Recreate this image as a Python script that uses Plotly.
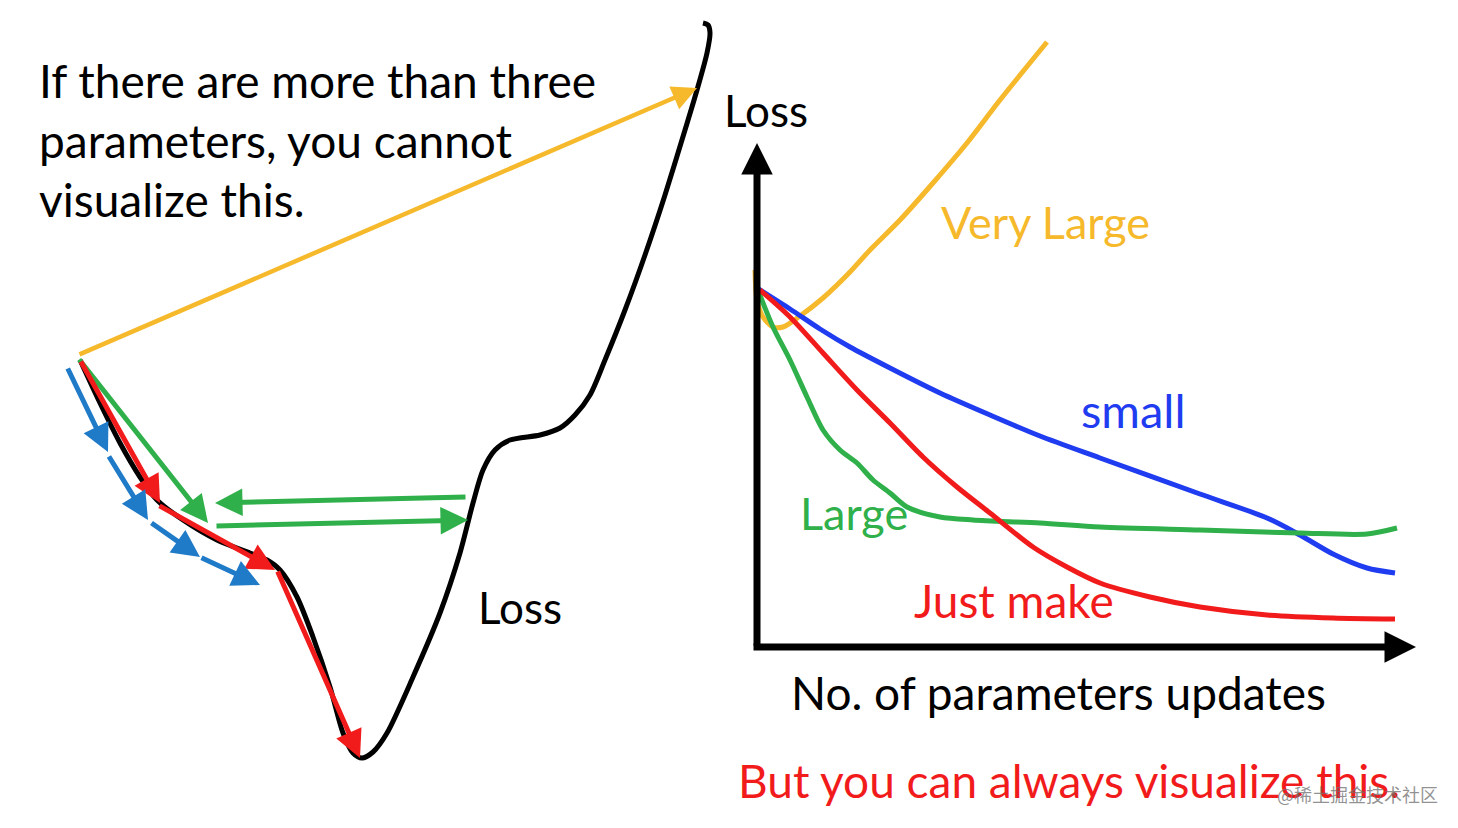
import plotly.graph_objects as go

# ---------------- data (canvas units: x right, y down) ----------------
# Left: the loss landscape curve
loss_curve_x = [80, 100, 120, 140, 157, 183, 217, 250, 267, 280, 297, 313, 330, 343, 353, 362, 373, 387, 413,
                440, 460, 473, 483, 495, 510, 540, 560, 575, 590, 605, 625, 645, 665, 685, 697, 707, 710, 708, 703]
loss_curve_y = [360, 403, 443, 477, 500, 520, 540, 553, 560, 570, 597, 637, 687, 733, 753, 758, 752, 733, 677,
                613, 553, 503, 470, 450, 440, 435, 428, 415, 395, 360, 310, 255, 195, 130, 90, 53, 33, 25, 23]

# Arrows on the landscape: (x_start, y_start, x_end, y_end)
yellow_steps = [(78, 355, 697, 88)]
green_steps = [(78, 358, 208, 523), (467, 497, 215, 503), (215, 526, 468, 520)]
red_steps = [(80, 360, 160, 503), (158, 505, 275, 570), (277, 570, 360, 758)]
blue_steps = [(67, 367, 108, 452), (108, 455, 148, 520), (150, 522, 200, 557), (200, 557, 260, 585)]

# Right: loss vs number of parameter updates
very_large_x = [755, 757, 763, 773, 783, 800, 823, 850, 870, 900, 933, 967, 1000, 1047]
very_large_y = [270, 300, 317, 327, 327, 316, 298, 272, 250, 220, 183, 143, 100, 42]
small_x = [757, 790, 820, 850, 890, 940, 990, 1040, 1100, 1200, 1267, 1300, 1333, 1367, 1395]
small_y = [288, 309, 329, 347, 368, 393, 415, 436, 458, 494, 518, 535, 554, 568, 573]
large_x = [758, 773, 790, 807, 823, 840, 857, 873, 890, 907, 940, 973, 1040, 1100, 1200, 1300, 1367, 1397]
large_y = [290, 327, 360, 397, 430, 450, 463, 480, 493, 507, 517, 520, 523, 527, 530, 533, 534, 528]
just_x = [760, 790, 823, 857, 890, 923, 957, 990, 1033, 1067, 1100, 1150, 1200, 1267, 1333, 1395]
just_y = [290, 317, 353, 390, 423, 457, 487, 513, 547, 567, 583, 597, 607, 615, 618, 619]

# Axes of the right diagram
axis_y_arrow = (757, 647, 757, 143)
axis_x_arrow = (752, 647, 1416, 647)

# Text labels: (text, x, y, color, size)
labels = [
    ("If there are more than three", 37, 80, "#000000", 46),
    ("parameters, you cannot", 37, 140, "#000000", 46),
    ("visualize this.", 37, 199, "#000000", 46),
    ("Loss", 476, 607, "#000000", 44),
    ("Loss", 722, 110, "#000000", 44),
    ("Very Large", 939, 222, "#f6b92b", 45),
    ("small", 1079, 410, "#1f3cf0", 47),
    ("Large", 798, 513, "#2fb04a", 45),
    ("Just make", 912, 600, "#f21b1b", 46),
    ("No. of parameters updates", 789, 692, "#000000", 46),
    ("But you can always visualize this.", 736, 780, "#f21b1b", 46),
]
watermark = ("@稀土掘金技术社区", 1275, 794)

# ---------------- figure ----------------
YELLOW = "#f6b92b"
GREEN = "#2fb04a"
RED = "#f21b1b"
BLUE_ARROW = "#1f7ac8"
BLUE = "#1f3cf0"

fig = go.Figure()

fig.add_trace(go.Scatter(x=loss_curve_x, y=loss_curve_y, mode="lines",
                         line=dict(color="black", width=5, shape="spline", smoothing=0.8),
                         hoverinfo="skip"))

for xs, ys, col in [(very_large_x, very_large_y, YELLOW), (small_x, small_y, BLUE),
                    (large_x, large_y, GREEN), (just_x, just_y, RED)]:
    fig.add_trace(go.Scatter(x=xs, y=ys, mode="lines",
                             line=dict(color=col, width=5, shape="spline", smoothing=0.8),
                             hoverinfo="skip"))

annotations = []


def arrow(seg, color, width, size=1.0, head=2):
    x0, y0, x1, y1 = seg
    annotations.append(dict(x=x1, y=y1, ax=x0, ay=y0, xref="x", yref="y", axref="x", ayref="y",
                            showarrow=True, arrowhead=head, arrowsize=size, arrowwidth=width,
                            arrowcolor=color, text=""))


for s in yellow_steps:
    arrow(s, YELLOW, 4.5, 1.1)
for s in green_steps:
    arrow(s, GREEN, 5, 1.1)
for s in red_steps:
    arrow(s, RED, 5, 1.1)
for s in blue_steps:
    arrow(s, BLUE_ARROW, 5, 1.1)

arrow(axis_y_arrow, "black", 7, 0.9)
arrow(axis_x_arrow, "black", 7, 0.9)

for text, x, y, color, size in labels:
    annotations.append(dict(x=x, y=y, xref="x", yref="y", text=text, showarrow=False,
                            xanchor="left", yanchor="middle",
                            font=dict(family="Lato, Open Sans, sans-serif", size=size, color=color)))

wt, wx, wy = watermark
annotations.append(dict(x=wx, y=wy, xref="x", yref="y", text=wt, showarrow=False,
                        xanchor="left", yanchor="middle",
                        font=dict(family="Noto Sans CJK SC", size=18, color="rgba(110,110,110,0.75)")))

# The page body has an 8px default margin, so the figure is offset by 8px;
# the visible canvas therefore spans 8..1458 horizontally and 8..828 vertically.
fig.update_layout(
    width=1450, height=820,
    margin=dict(l=0, r=0, t=0, b=0),
    paper_bgcolor="white", plot_bgcolor="white",
    showlegend=False,
    xaxis=dict(range=[8, 1458], visible=False, fixedrange=True),
    yaxis=dict(range=[828, 8], visible=False, fixedrange=True),
    annotations=annotations,
)

fig.write_html("out.html")
